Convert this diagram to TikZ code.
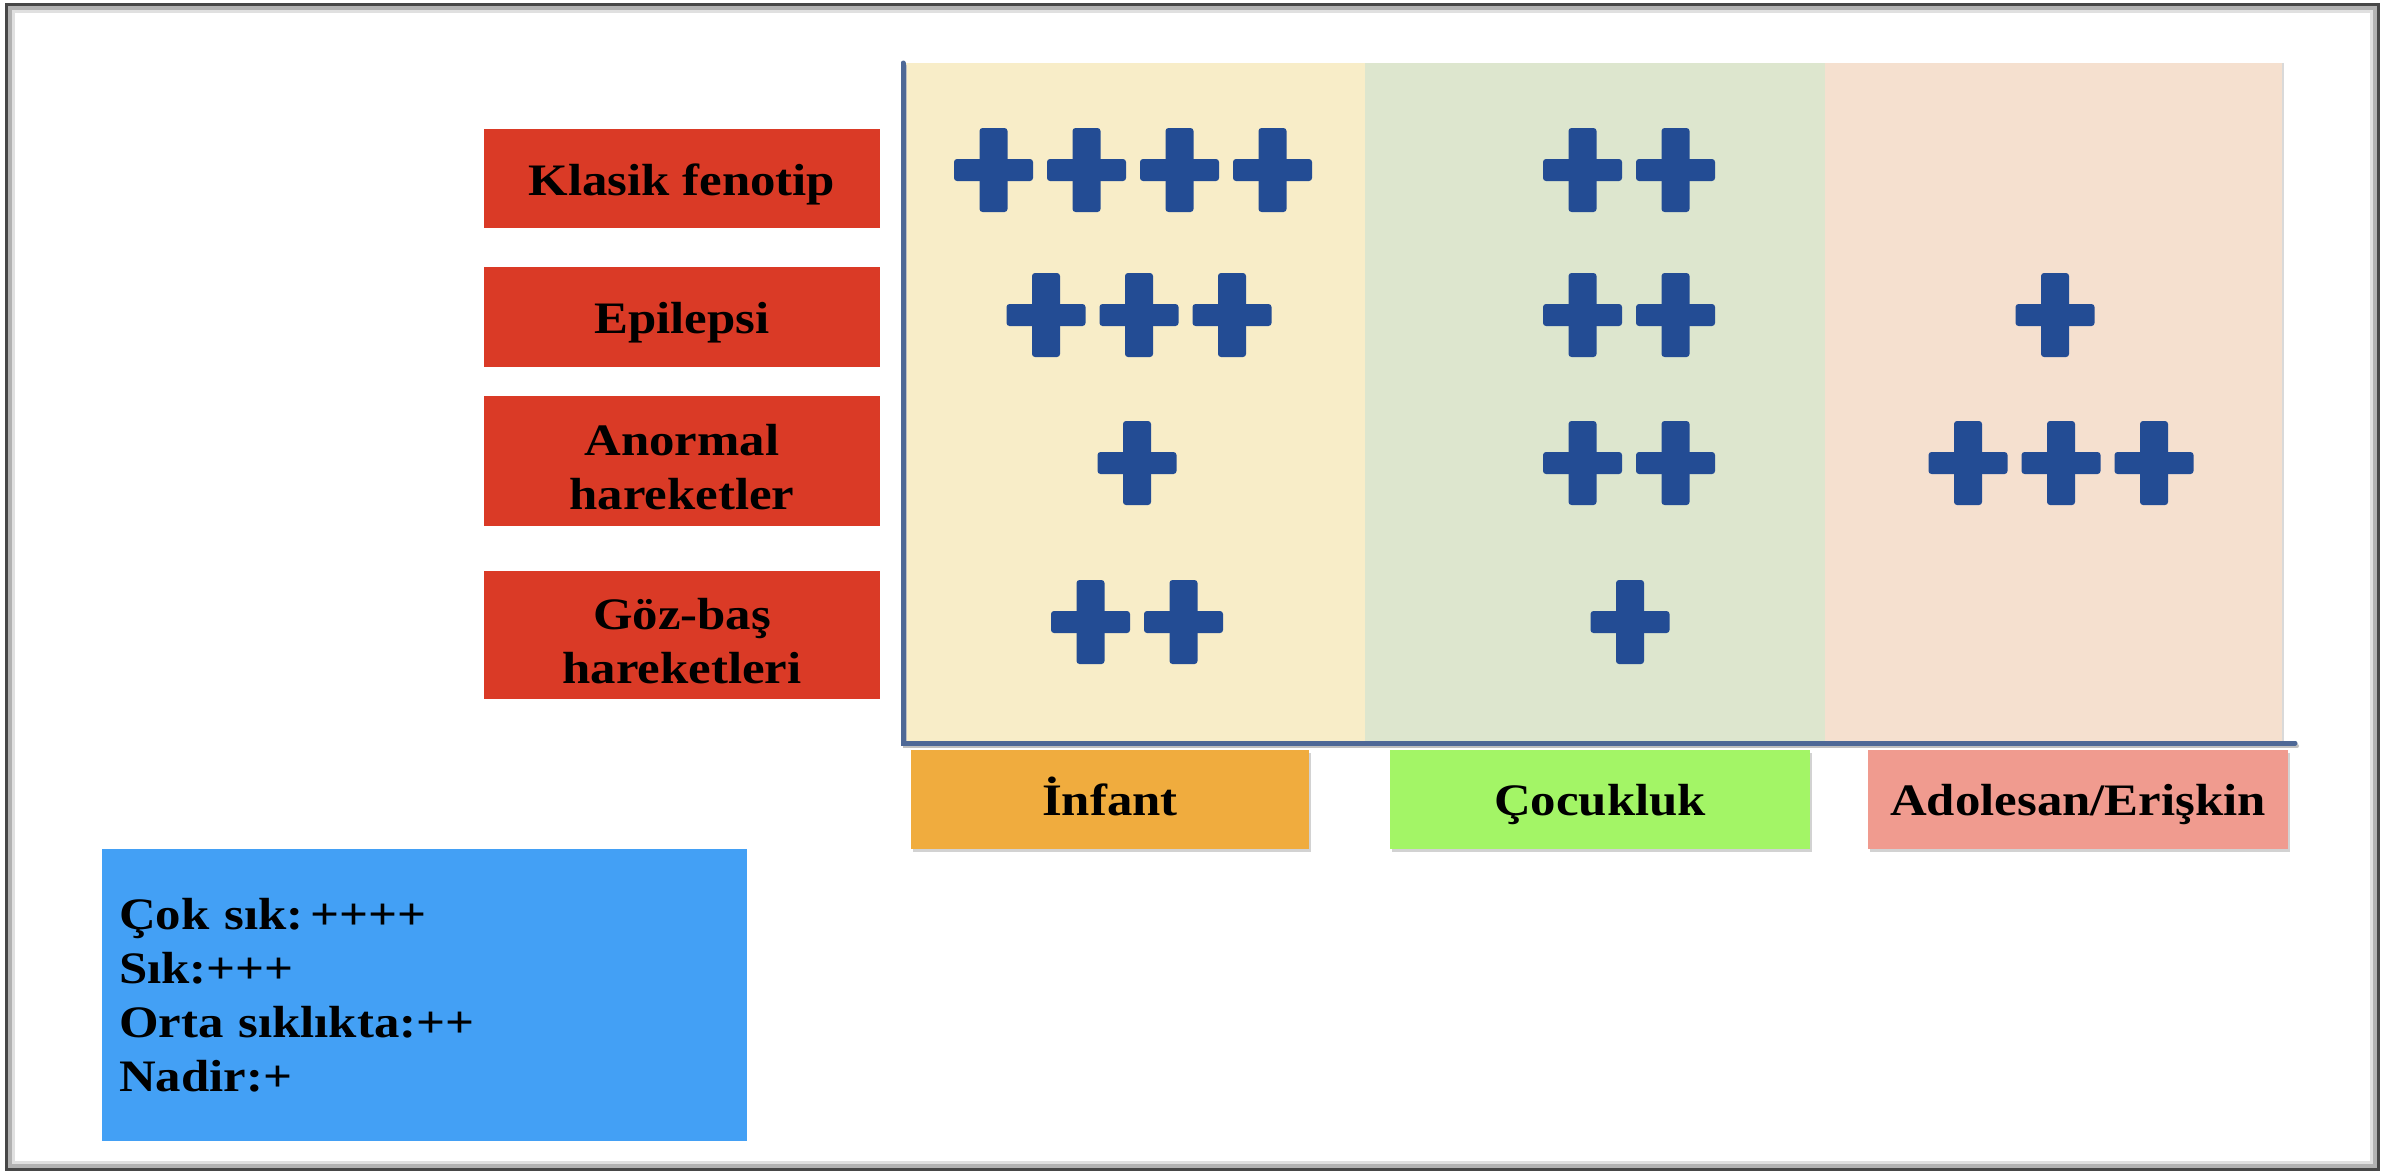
\documentclass[tikz,border=0pt]{standalone}
\usepackage{fontspec}
\setmainfont{Liberation Serif}[FakeStretch=1.13]
\usetikzlibrary{shadows}

\definecolor{labelred}{RGB}{218,58,38}
\definecolor{bandyellow}{RGB}{248,237,200}
\definecolor{bandgreen}{RGB}{221,230,206}
\definecolor{bandpink}{RGB}{245,224,207}
\definecolor{plusblue}{RGB}{35,76,148}
\definecolor{axisblue}{RGB}{78,104,150}
\definecolor{infantorange}{RGB}{240,172,62}
\definecolor{childgreen}{RGB}{163,245,102}
\definecolor{adultpink}{RGB}{240,155,143}
\definecolor{legendblue}{RGB}{67,160,245}

\newcommand\labelfont{\bfseries\fontsize{45}{54}\selectfont}
% invisible strut that lowers the first line of a label a little
\newcommand\topstrut{\rule{0pt}{43pt}}
% a row of n plus marks centred on (x,y): \plusrow{x}{y}{n}
\newcommand\plusrow[3]{%
  \foreach \k in {1,...,#3}{\pic at ({#1+(\k-(#3+1)/2)*93},#2) {plusmark};}}

\begin{document}
\begin{tikzpicture}[x=1pt,y=-1pt,
  rowlabel/.style={fill=labelred, text=black, font=\labelfont, align=center,
    minimum width=396pt, inner sep=0pt},
  agebox/.style={text=black, font=\labelfont, minimum height=99pt, inner sep=0pt,
    text height=31pt, text depth=0pt,
    drop shadow={shadow xshift=2pt, shadow yshift=-3pt, opacity=0.35}},
  band/.style={inner sep=0pt, minimum height=678pt, minimum width=460pt},
  axisline/.style={draw=axisblue, line width=5pt, line cap=round, line join=miter},
  plusmark/.pic={
    \fill[plusblue, rounded corners=3pt] (-39.5,-11) rectangle (39.5,11);
    \fill[plusblue, rounded corners=3pt] (-14,-42) rectangle (14,42);
  }]
\useasboundingbox (0,0) rectangle (2405,1173);
\fill[white] (0,0) rectangle (2405,1173);

% outer frame with a soft inner shadow
\draw[black!12, line width=3pt] (13,11) rectangle (2371,1162);
\draw[black!30, line width=4pt] (9.5,7.5) rectangle (2374.5,1165.5);
\draw[black!72, line width=3pt] (6,4) rectangle (2378,1169);

% age bands of the chart
\node[band, fill=bandyellow, minimum width=459pt] (bandA) at (1135.5,402) {};
\node[band, fill=bandgreen] (bandB) at (1595,402) {};
\node[band, fill=bandpink, minimum width=458pt] (bandC) at (2054,402) {};
\draw[black!15, line width=1.5pt] (bandC.north east) -- (bandC.south east);

% axes
\coordinate (ytop) at (903,63);
\coordinate (origin) at (903,743);
\coordinate (xend) at (2295,743);
\draw[black!25, line width=4pt, line cap=round] ([shift={(2,3)}]ytop) -- ([shift={(2,3)}]origin) -- ([shift={(2,3)}]xend);
\draw[axisline] (ytop) -- (origin) -- (xend);

% row labels
\node[rowlabel, minimum height=99pt] (klasik) at (682,178.5) {\topstrut Klasik fenotip};
\node[rowlabel, minimum height=100pt] (epilepsi) at (682,317) {\topstrut Epilepsi};
\node[rowlabel, minimum height=130pt] (anormal) at (682,461) {\topstrut Anormal\\hareketler};
\node[rowlabel, minimum height=128pt] (gozbas) at (682,635) {\topstrut Göz-baş\\hareketleri};

% age groups
\node[agebox, fill=infantorange, minimum width=398pt] (infant) at (1110,799.5) {İnfant};
\node[agebox, fill=childgreen, minimum width=420pt] (cocukluk) at (1600,799.5) {Çocukluk};
\node[agebox, fill=adultpink, minimum width=420pt] (adolesan) at (2078,799.5) {Adolesan/Erişkin};

% frequency marks
\plusrow{1133}{170}{4}
\plusrow{1629}{170}{2}
\plusrow{1139}{315}{3}
\plusrow{1629}{315}{2}
\plusrow{2055}{315}{1}
\plusrow{1137}{463}{1}
\plusrow{1629}{463}{2}
\plusrow{2061}{463}{3}
\plusrow{1137}{622}{2}
\plusrow{1630}{622}{1}

% legend
\node[fill=legendblue, text=black, font=\labelfont, align=left,
  text width=611pt, inner xsep=17pt, inner ysep=0pt, minimum height=292pt]
  (legend) at (424.5,995)
  {Çok sık:\hspace{0.16em}++++\\Sık:+++\\Orta sıklıkta:++\\Nadir:+};
\end{tikzpicture}
\end{document}
